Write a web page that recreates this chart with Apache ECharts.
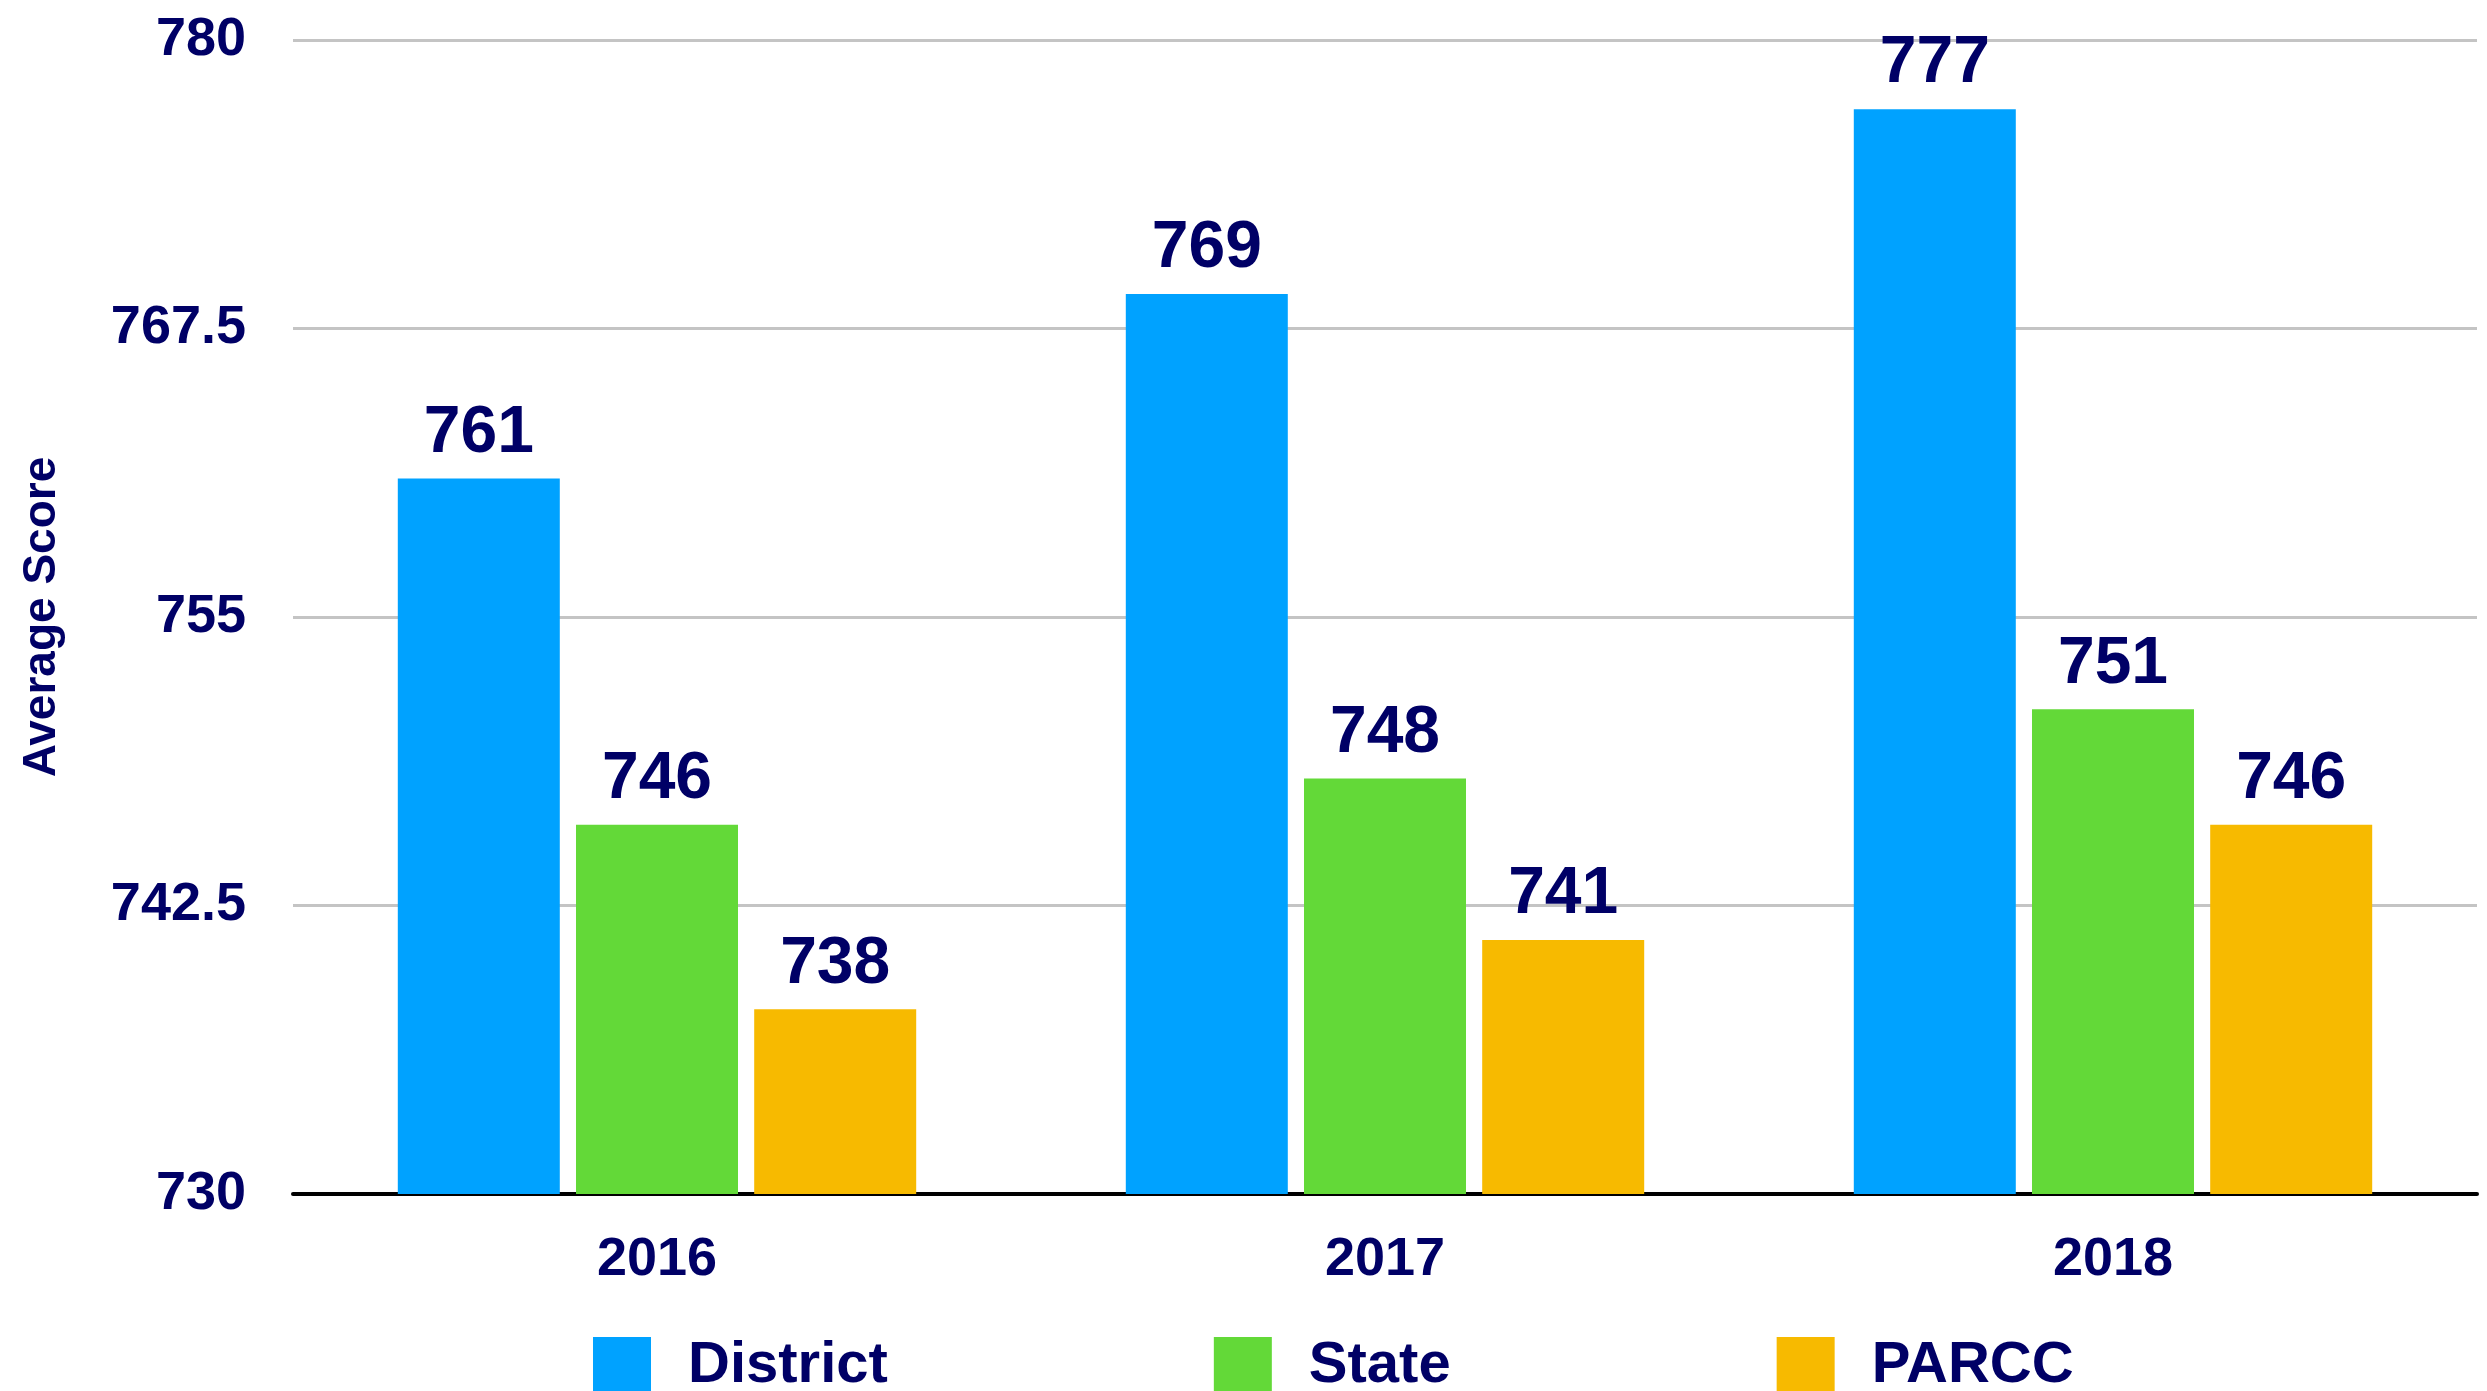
<!DOCTYPE html>
<html>
<head>
<meta charset="UTF-8">
<script src="https://cdn.jsdelivr.net/npm/echarts@6/dist/echarts.min.js"></script>
<style>
  html, body { margin: 0; padding: 0; background: #fff; }
  #main { width: 2487px; height: 1391px; }
</style>
</head>
<body>
<div id="main"></div>
<script>
  var years = ['2016', '2017', '2018'];
  var district = [761, 769, 777];
  var state = [746, 748, 751];
  var parcc = [738, 741, 746];

  var navy = '#000066';
  var sans = '"Liberation Sans", Arial, sans-serif';

  function barSeries(name, data, color) {
    return {
      name: name,
      type: 'bar',
      data: data,
      barWidth: 162,
      barGap: '10%',
      itemStyle: { color: color },
      label: {
        show: true,
        position: 'top',
        distance: 12,
        color: navy,
        fontFamily: sans,
        fontWeight: 'bold',
        fontSize: 66
      }
    };
  }

  var chart = echarts.init(document.getElementById('main'));
  chart.setOption({
    animation: false,
    grid: { left: 293, right: 10, top: 40, bottom: 197 },
    legend: {
      left: 588,
      top: 1332,
      itemWidth: 58,
      itemHeight: 58,
      itemGap: 326,
      icon: 'rect',
      textStyle: {
        color: navy,
        fontFamily: sans,
        fontWeight: 'bold',
        fontSize: 58,
        padding: [0, 0, 0, 32]
      }
    },
    xAxis: {
      type: 'category',
      data: years,
      axisTick: { show: false },
      axisLine: { lineStyle: { color: '#000', width: 4 } },
      axisLabel: {
        color: navy,
        fontFamily: sans,
        fontWeight: 'bold',
        fontSize: 54,
        margin: 39
      }
    },
    yAxis: {
      type: 'value',
      min: 730,
      max: 780,
      interval: 12.5,
      name: 'Average Score',
      nameLocation: 'middle',
      nameGap: 228,
      nameTextStyle: {
        color: navy,
        fontFamily: sans,
        fontWeight: 'bold',
        fontSize: 46
      },
      axisLine: { show: false },
      axisTick: { show: false },
      splitLine: { lineStyle: { color: '#c4c4c4', width: 3 } },
      axisLabel: {
        color: navy,
        fontFamily: sans,
        fontWeight: 'bold',
        fontSize: 54,
        margin: 47
      }
    },
    series: [
      barSeries('District', district, '#00A2FF'),
      barSeries('State', state, '#63D938'),
      barSeries('PARCC', parcc, '#F7BA00')
    ]
  });
</script>
</body>
</html>
